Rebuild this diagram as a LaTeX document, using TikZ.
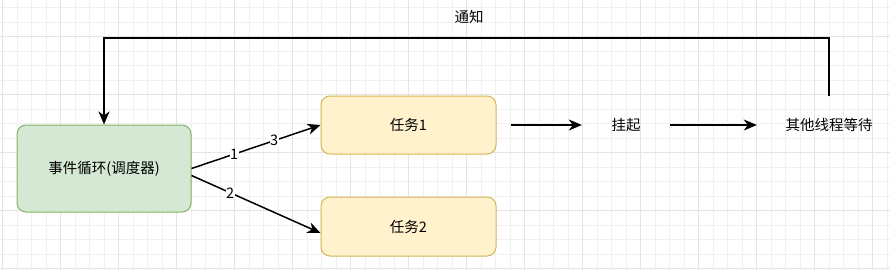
\documentclass[tikz,border=0pt]{standalone}
\usepackage{fontspec}
\setmainfont{Noto Sans CJK SC}
\usepackage{xcolor}
\definecolor{loopgreen}{RGB}{213, 232, 212}
\definecolor{loopedge}{RGB}{130, 179, 102}
\definecolor{taskyellow}{RGB}{255, 242, 204}
\definecolor{taskedge}{RGB}{214, 182, 86}
\definecolor{gridgray}{RGB}{240, 240, 240}
\definecolor{gridmajor}{RGB}{228, 228, 228}
\usepackage{tikz}
\usetikzlibrary{arrows.meta, positioning, calc}

\begin{document}
\begin{tikzpicture}[x=1pt, y=-1pt, >={Stealth[length=13pt, width=11pt, inset=4pt]},
    txt/.style={font=\fontsize{14.5}{17}\selectfont},
    box/.style={txt, rounded corners=9pt, line width=1pt, minimum width=175pt, minimum height=58pt, inner sep=0pt},
    plain/.style={txt, minimum height=58pt, inner sep=0pt},
    arr/.style={->, line width=1.5pt},
    num/.style={txt, fill=white, inner sep=0.5pt}]
    \fill[white] (0,0) rectangle (890,270);
    \useasboundingbox (0,0) rectangle (890,270);
    \foreach \k in {0,...,61} \draw[gridgray, line width=0.8pt] ({2.5+14.5*\k},0) -- ++(0,270);
    \foreach \k in {0,...,18} \draw[gridgray, line width=0.8pt] (0,{7.5+14.5*\k}) -- ++(890,0);
    \foreach \k in {0,4,...,60} \draw[gridmajor, line width=0.8pt] ({2.5+14.5*\k},0) -- ++(0,270);
    \foreach \k in {2,6,...,18} \draw[gridmajor, line width=0.8pt] (0,{7.5+14.5*\k}) -- ++(890,0);

    \node[box, draw=loopedge, fill=loopgreen, minimum width=174pt, minimum height=87pt] (loop) at (104,168.5) {事件循环(调度器)};
    \node[box, draw=taskedge, fill=taskyellow] (task1) at (408.5,125) {任务1};
    \node[box, draw=taskedge, fill=taskyellow, minimum height=59pt] (task2) at (408.5,226.5) {任务2};
    \node[plain, minimum width=88pt] (hang) at (626,125) {挂起};
    \node[plain, minimum width=144pt] (wait) at (829,125) {其他线程等待};
    \node[txt] (notify) at (469,17) {通知};

    \draw[arr] (loop.east) -- (task1.west) node[num, pos=0.33] {1} node[num, pos=0.64] {3};
    \draw[arr] ([yshift=-7pt]loop.east) -- ([yshift=-6.5pt]task2.west) node[num, pos=0.3] {2};
    \draw[arr] ([xshift=14pt]task1.east) -- (hang.west);
    \draw[arr] (hang.east) -- (wait.west);
    \draw[arr] (wait.north) -- ++(0,-58) -| (loop.north);
\end{tikzpicture}
\end{document}
